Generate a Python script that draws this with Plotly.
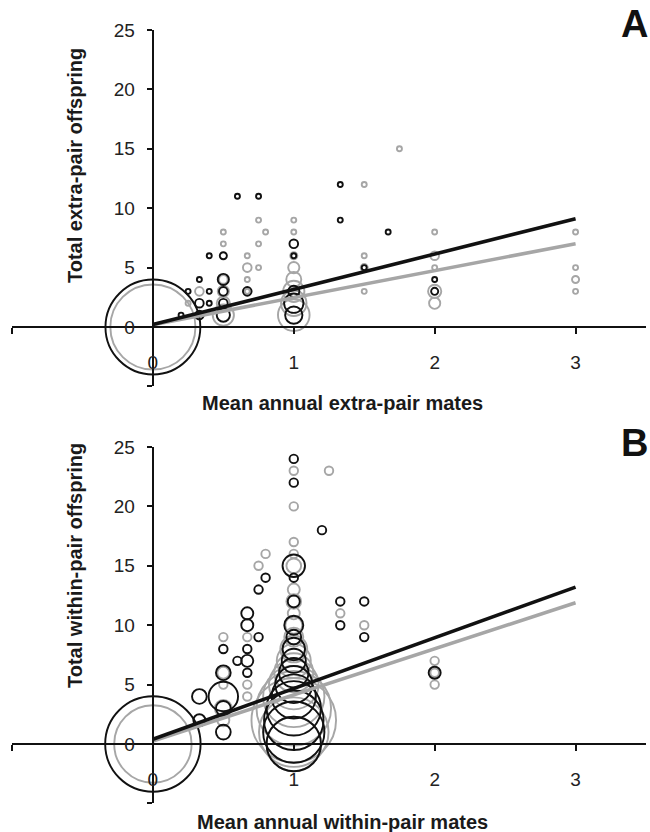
import numpy as np
import plotly.graph_objects as go

# ---------------- data ----------------
# Panel A: extra-pair mates vs extra-pair offspring (n = number of individuals at point)
a_black_x = [0, 0.2, 0.25, 0.33, 0.33, 0.33, 0.4, 0.4, 0.4, 0.5, 0.5, 0.5, 0.5, 0.5, 0.6, 0.67, 0.75,
             1, 1, 1, 1, 1, 1.33, 1.33, 1.5, 1.67, 2, 2]
a_black_y = [0, 1, 3, 4, 2, 1, 6, 3, 2, 6, 4, 3, 2, 1, 11, 3, 11,
             7, 6, 3, 2, 1, 12, 9, 5, 8, 4, 3]
a_black_n = [360, 1, 1, 1, 3, 3, 1, 1, 1, 2, 5, 3, 3, 7, 1, 3, 1,
             3, 1, 5, 15, 12, 1, 1, 1, 1, 1, 2]

a_gray_x = [0, 0.25, 0.33, 0.33, 0.5, 0.5, 0.5, 0.5, 0.5, 0.5, 0.67, 0.67, 0.67, 0.67, 0.75, 0.75, 0.75, 0.8,
            1, 1, 1, 1, 1, 1, 1, 1, 1.5, 1.5, 1.5, 1.5, 1.75, 2, 2, 2, 2, 2, 3, 3, 3, 3]
a_gray_y = [0, 2, 3, 1, 8, 7, 4, 3, 2, 1, 6, 5, 4, 3, 9, 7, 5, 8,
            9, 8, 6, 5, 4, 3, 2, 1, 12, 6, 5, 3, 15, 8, 6, 5, 3, 2, 8, 5, 4, 3]
a_gray_n = [290, 1, 3, 2, 1, 1, 3, 5, 7, 18, 1, 3, 1, 1, 1, 1, 1, 1,
            1, 1, 2, 5, 9, 18, 26, 40, 1, 1, 2, 1, 1, 1, 3, 1, 7, 5, 1, 1, 2, 1]

# Panel B: within-pair mates vs within-pair offspring
b_black_x = [0, 0.33, 0.33, 0.5, 0.5, 0.5, 0.5, 0.5, 0.6, 0.67, 0.67, 0.67, 0.67, 0.67, 0.75, 0.75, 0.8,
             1, 1, 1, 1, 1, 1, 1, 1, 1, 1, 1, 1, 1, 1, 1, 1, 1.2, 1.33, 1.33, 1.5, 1.5, 2]
b_black_y = [0, 4, 2, 8, 6, 4, 3, 1, 7, 11, 10, 8, 7, 6, 13, 9, 14,
             24, 22, 15, 14, 12, 10, 9, 8, 7, 6, 5, 4, 3, 2, 1, 0, 18, 12, 10, 12, 9, 6]
b_black_n = [126, 3, 2, 1, 3, 12, 3, 3, 1, 2, 2, 1, 2, 1, 1, 1, 1,
             1, 1, 7, 1, 2, 5, 3, 7, 8, 12, 19, 27, 41, 49, 52, 41, 1, 1, 1, 1, 1, 2]

b_gray_x = [0, 0.5, 0.5, 0.5, 0.5, 0.5, 0.67, 0.67, 0.67, 0.75, 0.8,
            1, 1, 1, 1, 1, 1, 1, 1, 1, 1, 1, 1, 1, 1, 1, 1, 1, 1, 1,
            1.25, 1.33, 1.5, 2, 2, 2]
b_gray_y = [0, 9, 6, 5, 3, 2, 9, 5, 4, 15, 16,
            23, 20, 17, 16, 15, 13, 12, 11, 10, 9, 8, 7, 6, 5, 4, 3, 2, 1, 0,
            23, 11, 10, 7, 6, 5]
b_gray_n = [83, 1, 2, 1, 4, 2, 1, 1, 1, 1, 1,
            1, 1, 1, 1, 3, 2, 3, 2, 4, 5, 10, 16, 21, 34, 52, 77, 99, 67, 41,
            1, 1, 1, 1, 1, 1]

# Regression lines (intercept, slope) : [black, gray]
a_intercepts = [0.2, 0.2]
a_slopes = [2.97, 2.27]
b_intercepts = [0.4, 0.25]
b_slopes = [4.27, 3.88]
line_x = [0, 3]

x_tickvals = [-1, 0, 1, 2, 3]
x_ticktext = ["", "0", "1", "2", "3"]
y_tickvals = [-5, 0, 5, 10, 15, 20, 25]
y_ticktext = ["", "0", "5", "10", "15", "20", "25"]

# ---------------- layout geometry ----------------
W, H = 650, 832
BLACK = "#111111"
GRAY = "#a6a6a6"
FONT = "Liberation Sans, Arial, sans-serif"
XR = [-1, 3.5]
YR = [-5, 25]
xdom = [12 / W, 646 / W]
ydomA = [1 - 386.4 / H, 1 - 30 / H]
ydomB = [1 - 803.4 / H, 1 - 447 / H]


def frac(v, rng, dom):
    return dom[0] + (v - rng[0]) / (rng[1] - rng[0]) * (dom[1] - dom[0])


fig = go.Figure()


def bubbles(x, y, n, color, base, xa, ya):
    sizes = [base * np.sqrt(v) for v in n]
    fig.add_trace(go.Scatter(
        x=x, y=y, mode="markers", xaxis=xa, yaxis=ya, showlegend=False,
        marker=dict(size=sizes, sizemode="diameter", color="rgba(0,0,0,0)", opacity=1,
                    line=dict(color=color, width=1.9)),
        cliponaxis=False, hoverinfo="skip"))


def reglines(ints, slopes, xa, ya):
    # gray first, black on top
    for b0, b1, col in [(ints[1], slopes[1], GRAY), (ints[0], slopes[0], BLACK)]:
        fig.add_trace(go.Scatter(
            x=line_x, y=[b0 + b1 * v for v in line_x], mode="lines", xaxis=xa, yaxis=ya,
            showlegend=False, line=dict(color=col, width=3.6), hoverinfo="skip"))


bubbles(a_gray_x, a_gray_y, a_gray_n, GRAY, 5.0, "x", "y")
bubbles(a_black_x, a_black_y, a_black_n, BLACK, 5.0, "x", "y")
reglines(a_intercepts, a_slopes, "x", "y")

bubbles(b_gray_x, b_gray_y, b_gray_n, GRAY, 8.5, "x2", "y2")
bubbles(b_black_x, b_black_y, b_black_n, BLACK, 8.5, "x2", "y2")
reglines(b_intercepts, b_slopes, "x2", "y2")

tickfont = dict(family=FONT, size=19, color="#222")
xpos0 = frac(0, XR, xdom)


def xaxis_cfg(ydom):
    return dict(domain=xdom, range=XR, anchor="free", position=frac(0, YR, ydom),
                showline=True, linecolor=BLACK, linewidth=2.4, ticks="outside",
                ticklen=6, tickwidth=2, tickcolor=BLACK, tickvals=x_tickvals,
                ticktext=x_ticktext, tickfont=tickfont, ticklabelstandoff=12,
                showgrid=False, zeroline=False, fixedrange=True, automargin=False)


def yaxis_cfg(ydom):
    return dict(domain=ydom, range=YR, anchor="free", position=xpos0,
                showline=True, linecolor=BLACK, linewidth=2.4, ticks="outside",
                ticklen=5, tickwidth=2, tickcolor=BLACK, tickvals=y_tickvals,
                ticktext=y_ticktext, tickfont=tickfont, ticklabelstandoff=8,
                showgrid=False, zeroline=False, fixedrange=True, automargin=False)


titlefont = dict(family=FONT, size=20, color="#1a1a1a")
ann = [
    dict(text="<b>Mean annual extra-pair mates</b>", x=342 / W, y=1 - 403 / H),
    dict(text="<b>Total extra-pair offspring</b>", x=75 / W, y=1 - 166 / H, textangle=-90),
    dict(text="<b>Mean annual within-pair mates</b>", x=342 / W, y=1 - 822 / H),
    dict(text="<b>Total within-pair offspring</b>", x=75 / W, y=1 - 566 / H, textangle=-90),
]
annotations = []
for a in ann:
    d = dict(xref="paper", yref="paper", showarrow=False, font=titlefont,
             xanchor="center", yanchor="middle")
    d.update(a)
    annotations.append(d)
for lab, yy in [("A", 24), ("B", 443)]:
    annotations.append(dict(text="<b>%s</b>" % lab, xref="paper", yref="paper",
                            x=634 / W, y=1 - yy / H, showarrow=False,
                            font=dict(family=FONT, size=38, color="#111"),
                            xanchor="center", yanchor="middle"))

fig.update_layout(
    width=W, height=H, margin=dict(l=0, r=0, t=0, b=0, pad=0, autoexpand=False),
    paper_bgcolor="white", plot_bgcolor="white",
    xaxis=xaxis_cfg(ydomA), yaxis=yaxis_cfg(ydomA),
    xaxis2=xaxis_cfg(ydomB), yaxis2=yaxis_cfg(ydomB),
    annotations=annotations,
)

fig.write_html(
    "out.html",
    config={"displayModeBar": False},
    post_script="document.body.style.margin='0';document.body.style.padding='0';"
                "document.documentElement.style.overflow='hidden';",
)
